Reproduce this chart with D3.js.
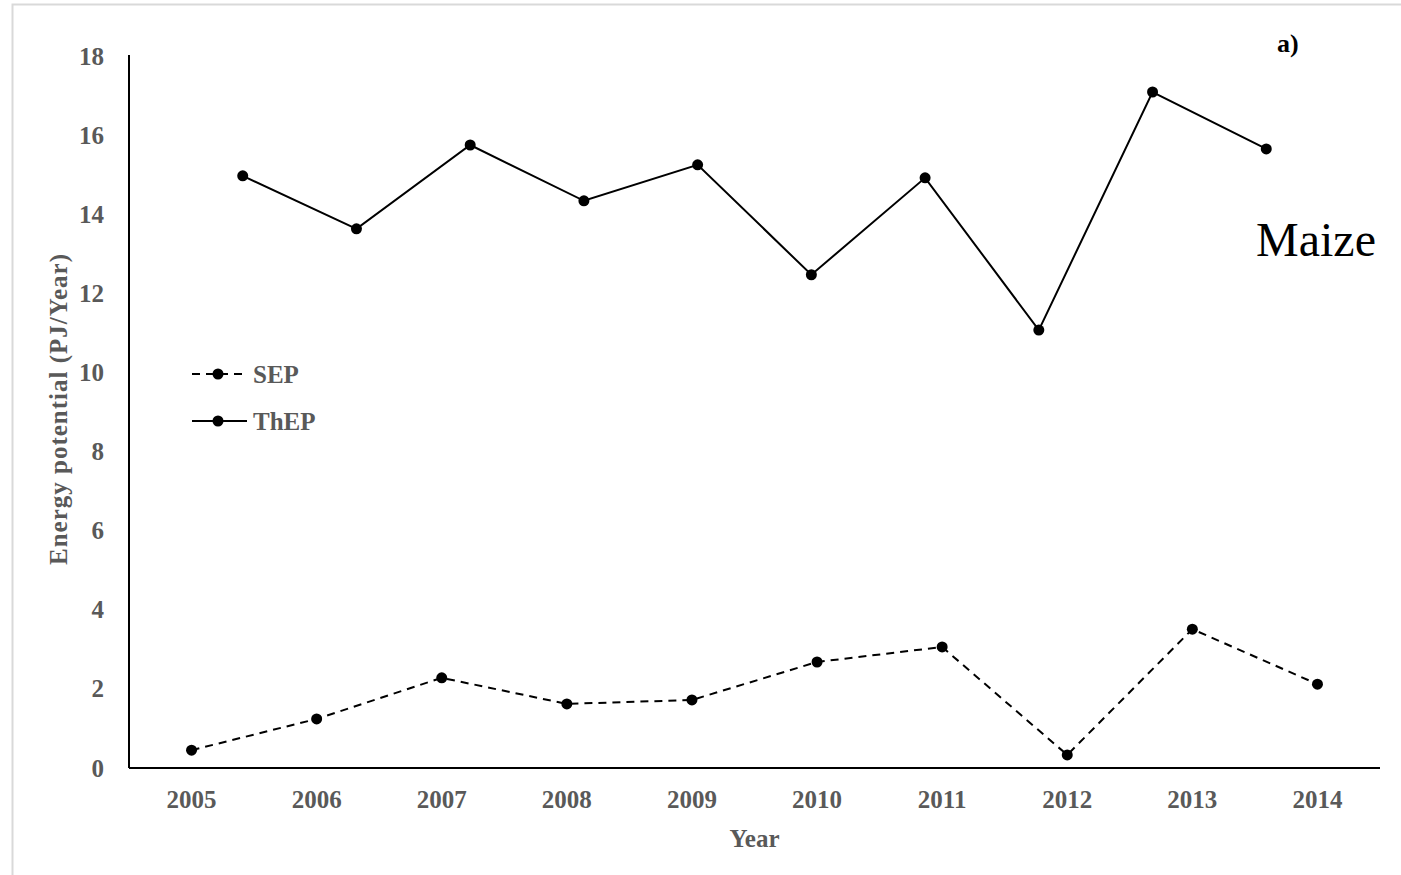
<!DOCTYPE html>
<html>
<head>
<meta charset="utf-8">
<script src="https://cdn.jsdelivr.net/npm/d3@7/dist/d3.min.js"></script>
<style>
  html, body { margin: 0; padding: 0; background: #fff; }
  svg { display: block; }
  text { font-family: "Liberation Serif", "Times New Roman", serif; }
</style>
</head>
<body>
<svg id="chart" width="1401" height="875"></svg>
<script>
// Maize energy potential by year
const years = ["2005", "2006", "2007", "2008", "2009", "2010", "2011", "2012", "2013", "2014"];
const sepValues = [0.45, 1.24, 2.28, 1.62, 1.72, 2.68, 3.06, 0.33, 3.51, 2.12];
const thepValues = [14.97, 13.63, 15.75, 14.34, 15.25, 12.47, 14.92, 11.07, 17.09, 15.65];
const yTicks = [0, 2, 4, 6, 8, 10, 12, 14, 16, 18];

const svg = d3.select("#chart");
const grey = "#595959";

// outer frame
svg.append("rect")
  .attr("x", 12.5).attr("y", 4.5)
  .attr("width", 1400).attr("height", 880)
  .attr("fill", "none").attr("stroke", "#d9d9d9").attr("stroke-width", 2);

const plotLeft = 129, plotRight = 1380, plotTop = 56, plotBottom = 768;

const x = d3.scaleBand().domain(years).range([plotLeft, plotRight]);
// ThEP sits on its own category spacing (one extra step)
const xT = d3.scalePoint().domain(years).range([plotLeft, plotRight]).padding(1);
const y = d3.scaleLinear().domain([0, 18]).range([plotBottom, plotTop]);

// y axis
const yAxis = svg.append("g")
  .attr("transform", `translate(${plotLeft},0)`)
  .call(d3.axisLeft(y).tickValues(yTicks).tickSize(0).tickPadding(25));
yAxis.select(".domain").attr("stroke", "#000").attr("stroke-width", 2)
  .attr("d", `M0,${plotTop - 1}V${plotBottom}`);
yAxis.selectAll("text")
  .attr("fill", grey).attr("font-size", 25).attr("font-weight", "bold")
  .attr("font-family", "Liberation Serif");

// x axis
const xAxis = svg.append("g")
  .attr("transform", `translate(0,${plotBottom})`)
  .call(d3.axisBottom(x).tickSize(0).tickPadding(22));
xAxis.select(".domain").attr("stroke", "#000").attr("stroke-width", 2)
  .attr("d", `M${plotLeft},0H${plotRight}`);
xAxis.selectAll("text")
  .attr("fill", grey).attr("font-size", 25).attr("font-weight", "bold")
  .attr("font-family", "Liberation Serif");

// axis titles
svg.append("text")
  .attr("x", (plotLeft + plotRight) / 2).attr("y", 847)
  .attr("text-anchor", "middle")
  .attr("fill", grey).attr("font-size", 25).attr("font-weight", "bold")
  .text("Year");

svg.append("text")
  .attr("transform", `translate(67,409) rotate(-90)`)
  .attr("text-anchor", "middle")
  .attr("fill", grey).attr("font-size", 25).attr("font-weight", "bold")
  .attr("letter-spacing", 1)
  .text("Energy potential (PJ/Year)");

// series lines
const sepLine = d3.line().x((d, i) => x(years[i]) + x.bandwidth() / 2).y(d => y(d));
const thepLine = d3.line().x((d, i) => xT(years[i])).y(d => y(d));

svg.append("path").datum(sepValues)
  .attr("d", sepLine).attr("fill", "none")
  .attr("stroke", "#000").attr("stroke-width", 2).attr("stroke-dasharray", "8,6");
svg.append("path").datum(thepValues)
  .attr("d", thepLine).attr("fill", "none")
  .attr("stroke", "#000").attr("stroke-width", 2);

svg.selectAll("circle.sep").data(sepValues).enter().append("circle")
  .attr("class", "sep")
  .attr("cx", (d, i) => x(years[i]) + x.bandwidth() / 2)
  .attr("cy", d => y(d)).attr("r", 5.5).attr("fill", "#000");
svg.selectAll("circle.thep").data(thepValues).enter().append("circle")
  .attr("class", "thep")
  .attr("cx", (d, i) => xT(years[i]))
  .attr("cy", d => y(d)).attr("r", 5.5).attr("fill", "#000");

// legend
const legend = [
  { name: "SEP", dash: "8,6", y: 374 },
  { name: "ThEP", dash: null, y: 421 }
];
legend.forEach(l => {
  svg.append("line")
    .attr("x1", 192).attr("x2", 247).attr("y1", l.y).attr("y2", l.y)
    .attr("stroke", "#000").attr("stroke-width", 2)
    .attr("stroke-dasharray", l.dash);
  svg.append("circle").attr("cx", 218).attr("cy", l.y).attr("r", 5.5).attr("fill", "#000");
  svg.append("text")
    .attr("x", 253).attr("y", l.y).attr("dy", "0.35em")
    .attr("fill", grey).attr("font-size", 25).attr("font-weight", "bold")
    .text(l.name);
});

// panel tag and crop label
svg.append("text")
  .attr("x", 1277).attr("y", 52)
  .attr("fill", "#000").attr("font-size", 26).attr("font-weight", "bold")
  .text("a)");
svg.append("text")
  .attr("x", 1256).attr("y", 256)
  .attr("fill", "#000").attr("font-size", 48)
  .text("Maize");
</script>
</body>
</html>
